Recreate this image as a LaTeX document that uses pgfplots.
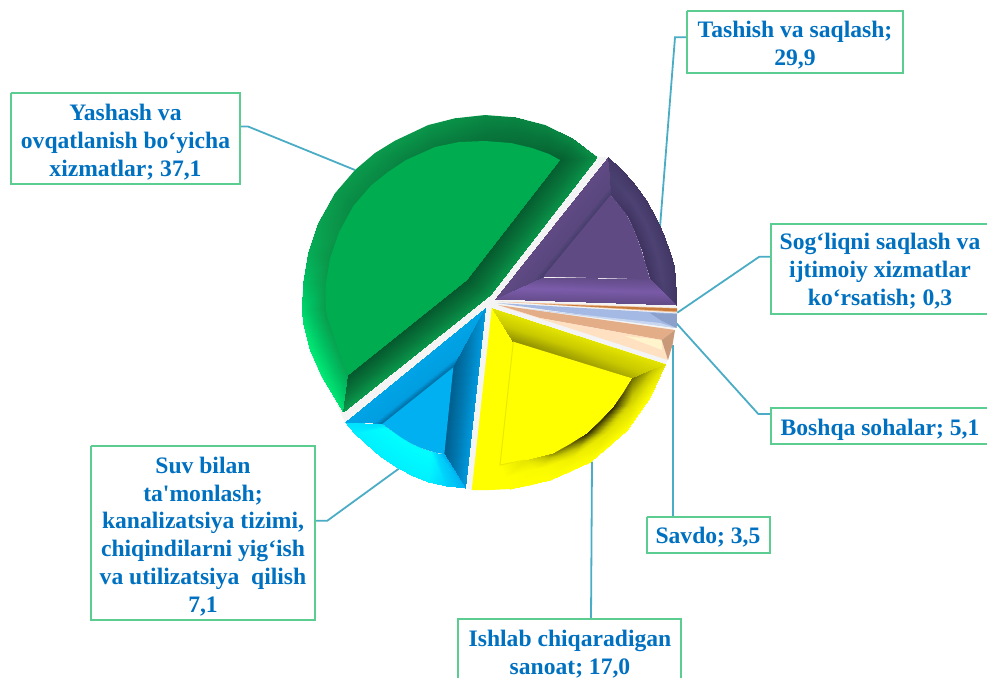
\documentclass[border=0pt]{standalone}
\usepackage{fontspec}
\setmainfont{Liberation Serif}[Ligatures=TeXOff]
\usepackage{pgfplots}
\pgfplotsset{compat=1.18}
\definecolor{lab}{RGB}{0,112,192}
\definecolor{boxc}{RGB}{92,205,145}
\definecolor{lead}{RGB}{75,172,198}
\definecolor{gapc}{RGB}{244,244,244}
\definecolor{gbase}{RGB}{10,154,76}
\definecolor{gflat}{RGB}{0,172,80}
\definecolor{bflat}{RGB}{0,176,240}
\definecolor{yflat}{RGB}{255,255,0}
\definecolor{yedge}{RGB}{232,232,0}
\definecolor{pflat}{RGB}{96,74,132}
\definecolor{oa}{RGB}{240,190,150}
\definecolor{ob}{RGB}{200,125,60}
\definecolor{pa}{RGB}{164,186,228}
\definecolor{pb}{RGB}{200,214,240}
\definecolor{pc}{RGB}{140,160,204}
\definecolor{ta}{RGB}{227,173,136}
\definecolor{tb}{RGB}{255,224,192}
\definecolor{tc}{RGB}{255,244,204}
\definecolor{td}{RGB}{200,154,122}
\pgfplotsset{
 band/.style={surf,shader=interp,point meta=explicit,mesh/ordering=x varies,forget plot},
 flat/.style={fill=#1,draw=none,forget plot},
 leader/.style={color=lead,line width=1.8pt,no markers,forget plot},
 box/.style={color=boxc,line width=1.9pt,no markers,forget plot},
}
\newcommand\lbl[2]{\node[align=center,text=lab,inner sep=1pt,font=\fontsize{23.6}{27.8}\selectfont\bfseries] at (axis cs:#1) {#2};}
\begin{document}
\begin{tikzpicture}
\path[use as bounding box] (0,0) rectangle (987pt,678pt);
\begin{axis}[at={(0,0)},anchor=south west,scale only axis,width=987pt,height=678pt,hide axis,
 xmin=0,xmax=987,ymin=0,ymax=678,y dir=reverse,
 point meta min=0,point meta max=70,
 colormap={pie}{rgb255(0pt)=(4,82,42); rgb255(3pt)=(8,120,60); rgb255(5pt)=(10,154,76); rgb255(7pt)=(0,192,98); rgb255(10pt)=(0,255,127);
  rgb255(20pt)=(0,80,122); rgb255(23pt)=(0,120,176); rgb255(25pt)=(0,152,220); rgb255(27pt)=(0,176,240); rgb255(29pt)=(0,224,255); rgb255(30pt)=(0,255,255);
  rgb255(40pt)=(46,40,0); rgb255(43pt)=(140,140,0); rgb255(45pt)=(200,200,0); rgb255(47pt)=(228,228,0); rgb255(50pt)=(255,255,0);
  rgb255(60pt)=(58,44,88); rgb255(63pt)=(74,64,112); rgb255(66pt)=(96,74,132); rgb255(70pt)=(124,92,172)}]
% leader lines
\addplot[leader] coordinates {(240,126.5)(248,126.5)(355,170)};
\addplot[leader] coordinates {(686,37.3)(675,37.3)(660,227)};
\addplot[leader] coordinates {(771,256.7)(759.3,256.7)(677.3,312.7)};
\addplot[leader] coordinates {(770.7,414)(758.3,414)(675,321.7)};
\addplot[leader] coordinates {(672.7,516.7)(672.7,345)};
\addplot[leader] coordinates {(591,619.3)(592,461.7)};
\addplot[leader] coordinates {(315,520.7)(327.3,520.7)(399.3,468.3)};
% label boxes
\addplot[box] coordinates {(11,93.3)(240,93.3)(240,184)(11,184)(11,93.3)};
\addplot[box] coordinates {(686.7,10.7)(903.3,10.7)(903.3,73.3)(686.7,73.3)(686.7,10.7)};
\addplot[box] coordinates {(987,224)(771,224)(771,314)(987,314)};
\addplot[box] coordinates {(987,408.3)(770.7,408.3)(770.7,444)(987,444)};
\addplot[box] coordinates {(646.7,516.7)(770,516.7)(770,552.7)(646.7,552.7)(646.7,516.7)};
\addplot[box] coordinates {(91,446)(315,446)(315,620)(91,620)(91,446)};
\addplot[box] coordinates {(458.3,678)(458.3,619.3)(680.7,619.3)(680.7,678)};
% pale backing of the gaps
\addplot[flat=gapc] coordinates {(597,157)(545,125)(485,115)(428,125)(355,170)(318,223)(302,296)(310,350)(345,422)(398,468)(472,490)(550,480)(627,430)(668,360)(677,310)(670,253)(633,182)(608,157)} -- cycle;
% green slice
\addplot[flat=gbase] coordinates {(596.7,156.7)(571.7,138.3)(545,125)(515,117.3)(485,115)(455,118.3)(428.3,125)(395,140.7)(375,153)(355,170)(335,193.3)(318.3,223.3)(308.3,253.3)(303.3,283.3)(302.3,310)(303.3,323.3)(310,350)(321.7,376.7)(343.3,411.7)(490,295)} -- cycle;
\addplot[band,mesh/cols=2] table[x=x,y=y,meta=c] {
x y c
596.7 156.7 4.5
560 160 1
571.7 138.3 4
549 154 1.5
545 125 3.8
532 148 2
515 117.3 3.8
511 143 2.2
485 115 4
485 141 2.5
455 118.3 4.5
459 142 3
428.3 125 4.7
435 147 3.2
395 140.7 5
406 160 3.5
375 153 5
388 172 3.8
355 170 5
371 185.5 4
335 193.3 5
353.3 206 4
318.3 223.3 5.5
339 232.3 4.5
308.3 253.3 6
330 258.6 4.6
303.3 283.3 7
325.7 285 5
302.3 310 8
325.5 308 5
303.3 323.3 8.5
327.6 318 5
310 350 9
338.3 350 5.5
321.7 376.7 9
344 365 5.5
343.3 411.7 8.5
348.3 375 5.5
};
\addplot[band,mesh/cols=2] table[x=x,y=y,meta=c] {
x y c
596.7 156.7 4.5
560 160 1
490 295 4.5
466.7 280 0.5
343.3 411.7 5
348.3 375 0.5
};
\addplot[flat=gflat] coordinates {(560,160)(549,154)(532,148)(511,143)(485,141)(459,142)(435,147)(406,160)(388,172)(371,185.5)(353.3,206)(339,232.3)(330,258.6)(325.7,285)(325.5,308)(327.6,318)(338.3,350)(344,365)(348.3,375)(466.7,280)} -- cycle;
% blue slice
\addplot[band,mesh/cols=3] table[x=x,y=y,meta=c] {
x y c
485 308.3 26
461 353 25.5
453.3 367.3 22
345 421.7 26
372.9 423.4 25.5
382.3 424 22
};
\addplot[band,mesh/cols=2] table[x=x,y=y,meta=c] {
x y c
485 308.3 25
453.3 367.3 21
465 488.3 25
444.3 454 21
};
\addplot[band,mesh/cols=2] table[x=x,y=y,meta=c] {
x y c
345 421.7 29
382.3 424 29
354 433 29.5
387 427.5 30
365 443.3 29.5
392 431 30
381 456.5 29.5
402 438 30
398.3 468.3 29.5
412 444 30
413 476 29.5
421 448 30
428.3 481.7 29.5
430 451 30
446 486 28.5
437 453 28.5
465 488.3 27
444.3 454 27
};
\addplot[flat=bflat] coordinates {(453.3,367.3)(382.3,424)(387,427.5)(392,431)(402,438)(412,444)(421,448)(430,451)(437,453)(444.3,454)} -- cycle;
% yellow slice
\addplot[flat=yflat] coordinates {(491.7,308.3)(665,364)(658,381)(650,396.7)(639,414)(626.7,430)(609,447)(590,461.7)(570,472)(550,480)(530,485.5)(510,489)(490,490)(471.7,490)} -- cycle;
\addplot[band,mesh/cols=2] table[x=x,y=y,meta=c] {
x y c
491.7 308.3 47
513.3 341.7 43
665 364 47
631.7 378.3 44
};
\addplot[band,mesh/cols=3] table[x=x,y=y,meta=c] {
x y c
665 364 47
648 371 44
631.7 378.3 42
650 396.7 50
631.5 402 46
613.3 406.7 40
626.7 430 50
607 431.5 47
586.7 433.3 40
590 461.7 50
571.5 457.5 48.5
553.3 453.3 43
550 480 50
537 469 49.5
525 460 47
510 489 50
505 477 50
500 465 50
};
\addplot[flat=yflat] coordinates {(513.3,341.7)(631.7,378.3)(623,393)(613.3,406.7)(600,421)(586.7,433.3)(570,444)(553.3,453.3)(525,460)(500,465)} -- cycle;
\addplot[color=yedge,line width=1pt,no markers,forget plot] coordinates {(513.3,341.7)(500,465)(525,460)};
% purple slice
\addplot[band,mesh/cols=3] table[x=x,y=y,meta=c] {
x y c
608.3 157.3 66
610.1 185.6 65
610.7 195 62
495 299 66
531 282.3 65
543.3 276.7 62
};
\addplot[band,mesh/cols=3] table[x=x,y=y,meta=c] {
x y c
608.3 157.3 62
610 176 63
610.7 195 62
620.5 168.5 61.8
620 187 63.2
619 205 61.5
633.3 181.7 61.5
630 198 63.5
626.7 215 61
646 200 61.5
638.5 212 63.5
632 225 61
656.7 220 61.5
646.7 228 63.5
636.7 236.7 61
664 236 61.5
652.5 243 63.5
641.5 250 61
670 253.3 61.5
657.5 257.6 63.5
645 262 61
673.5 266 61.5
660 268.5 63.5
647.7 271 61
675 280 61.5
662 279.7 63.5
650 279.3 61
676 293 61.5
663 286 63.2
650 279.3 61
676 305 61.5
663 292 63
650 279.3 61
};
\addplot[band,mesh/cols=3] table[x=x,y=y,meta=c] {
x y c
495 299 67
519 288 70
543.3 276.7 66.5
676 305 66
663 292 69.5
650 279.3 66.5
};
\addplot[flat=pflat] coordinates {(610.7,195)(543.3,276.7)(650,279.3)(647.7,271)(645,262)(641.5,250)(636.7,236.7)(632,225)(626.7,215)(619,205)} -- cycle;
% small slices
\addplot[flat=oa] coordinates {(497,301.5)(677,308)(677,312.5)} -- cycle;
\addplot[flat=ob] coordinates {(540,304)(677,308.5)(677,311.5)} -- cycle;
\addplot[flat=pa] coordinates {(497,303)(677,313.5)(676.7,328)} -- cycle;
\addplot[flat=pb] coordinates {(520,308)(676.7,328)(660,323)} -- cycle;
\addplot[flat=pc] coordinates {(650,313)(677,314)(676.7,328)(662,321)} -- cycle;
\addplot[flat=ta] coordinates {(498,305)(675,330)(661.7,340)(540,318)} -- cycle;
\addplot[flat=tb] coordinates {(498,305)(540,318)(661.7,340)(668,360)} -- cycle;
\addplot[flat=tc] coordinates {(625,336)(661.7,340)(662,350)} -- cycle;
\addplot[flat=td] coordinates {(675,330)(672.5,345)(668,360)(661.7,340)} -- cycle;
% labels
\lbl{125.5,142}{Yashash va\\ovqatlanish bo‘yicha\\xizmatlar; 37,1}
\lbl{795,45}{Tashish va saqlash;\\29,9}
\lbl{880,271}{Sog‘liqni saqlash va\\ijtimoiy xizmatlar\\ko‘rsatish; 0,3}
\lbl{880,429.5}{Boshqa sohalar; 5,1}
\lbl{708,537}{Savdo; 3,5}
\lbl{203,536.5}{Suv bilan\\ta'monlash;\\kanalizatsiya tizimi,\\chiqindilarni yig‘ish\\va utilizatsiya\ \ qilish\\7,1}
\lbl{570,654.5}{Ishlab chiqaradigan\\sanoat; 17,0}
\end{axis}
\end{tikzpicture}
\end{document}
